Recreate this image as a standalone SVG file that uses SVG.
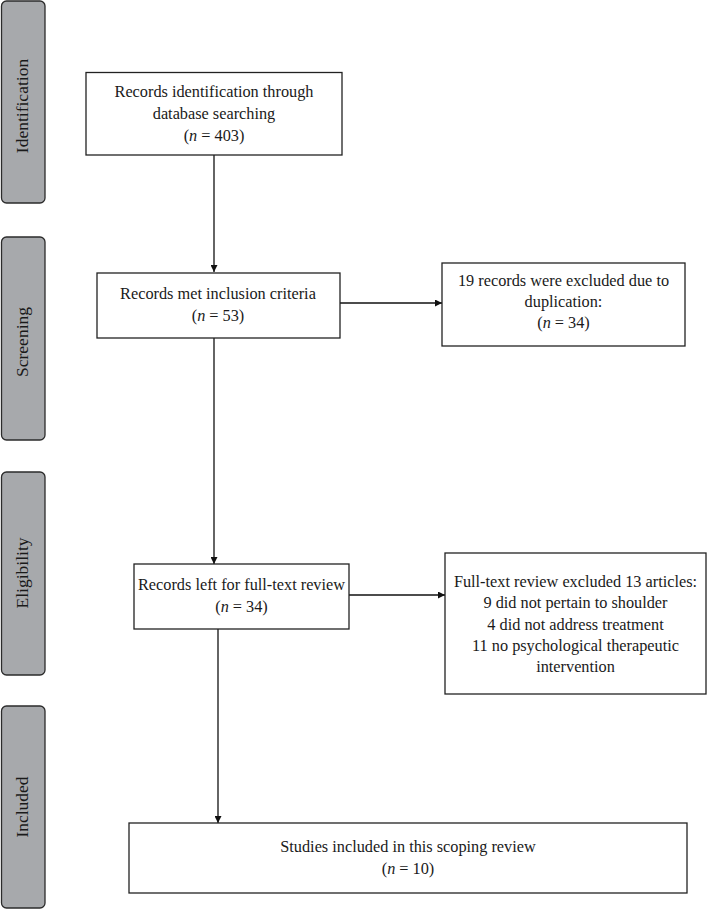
<svg xmlns="http://www.w3.org/2000/svg" width="708" height="912" viewBox="0 0 708 912">
<style>
.phase{fill:#a7a9ac;stroke:#2b2b2b;stroke-width:1.3}
.box{fill:#fff;stroke:#222;stroke-width:1.3}
.t{font-family:"Liberation Serif","Times New Roman",serif;font-size:16.3px;fill:#1a1a1a;text-anchor:middle}
.pt{font-family:"Liberation Serif","Times New Roman",serif;font-size:17.5px;fill:#1a1a1a;text-anchor:middle}
.edge{stroke:#111;stroke-width:1.3;fill:none;marker-end:url(#arr)}
</style>
<defs>
<marker id="arr" viewBox="0 0 10 10" refX="10" refY="5" markerWidth="7" markerHeight="7" markerUnits="userSpaceOnUse" orient="auto">
<path d="M0,0 L10,5 L0,10 z" fill="#111"/>
</marker>
</defs>
<g id="phase-identification">
<rect class="phase" x="1.5" y="1" width="43.5" height="202" rx="5"/>
<text class="pt" transform="translate(28,106) rotate(-90)">Identification</text>
</g>
<g id="phase-screening">
<rect class="phase" x="1.5" y="237" width="43.5" height="203" rx="5"/>
<text class="pt" transform="translate(28,342) rotate(-90)">Screening</text>
</g>
<g id="phase-eligibility">
<rect class="phase" x="1.5" y="472" width="43.5" height="203" rx="5"/>
<text class="pt" transform="translate(28,573) rotate(-90)">Eligibility</text>
</g>
<g id="phase-included">
<rect class="phase" x="1.5" y="706" width="43.5" height="202" rx="5"/>
<text class="pt" transform="translate(28,807) rotate(-90)">Included</text>
</g>
<g id="connectors">
<line class="edge" x1="214" y1="155" x2="214" y2="272"/>
<line class="edge" x1="340" y1="303" x2="442" y2="303"/>
<line class="edge" x1="214" y1="338" x2="214" y2="564"/>
<line class="edge" x1="349" y1="595" x2="445" y2="595"/>
<line class="edge" x1="218" y1="629" x2="218" y2="823"/>
</g>
<g id="node-identification">
<rect class="box" x="86" y="72.5" width="256" height="82.5"/>
<text class="t" x="214" y="97">Records identification through</text>
<text class="t" x="214" y="119">database searching</text>
<text class="t" x="214" y="141">(<tspan font-style="italic">n</tspan> = 403)</text>
</g>
<g id="node-screening">
<rect class="box" x="97" y="273" width="243" height="65"/>
<text class="t" x="218" y="299">Records met inclusion criteria</text>
<text class="t" x="218" y="321">(<tspan font-style="italic">n</tspan> = 53)</text>
</g>
<g id="node-duplicates">
<rect class="box" x="442" y="263" width="243" height="83"/>
<text class="t" x="563.5" y="286">19 records were excluded due to</text>
<text class="t" x="563.5" y="307">duplication:</text>
<text class="t" x="563.5" y="328">(<tspan font-style="italic">n</tspan> = 34)</text>
</g>
<g id="node-fulltext">
<rect class="box" x="134" y="564" width="215" height="65"/>
<text class="t" x="241.5" y="590">Records left for full-text review</text>
<text class="t" x="241.5" y="612">(<tspan font-style="italic">n</tspan> = 34)</text>
</g>
<g id="node-excluded">
<rect class="box" x="445" y="553" width="261" height="141"/>
<text class="t" x="575.5" y="587">Full-text review excluded 13 articles:</text>
<text class="t" x="575.5" y="608">9 did not pertain to shoulder</text>
<text class="t" x="575.5" y="630">4 did not address treatment</text>
<text class="t" x="575.5" y="651">11 no psychological therapeutic</text>
<text class="t" x="575.5" y="672">intervention</text>
</g>
<g id="node-included">
<rect class="box" x="129" y="823" width="558" height="70"/>
<text class="t" x="408" y="852">Studies included in this scoping review</text>
<text class="t" x="408" y="874">(<tspan font-style="italic">n</tspan> = 10)</text>
</g>
</svg>
